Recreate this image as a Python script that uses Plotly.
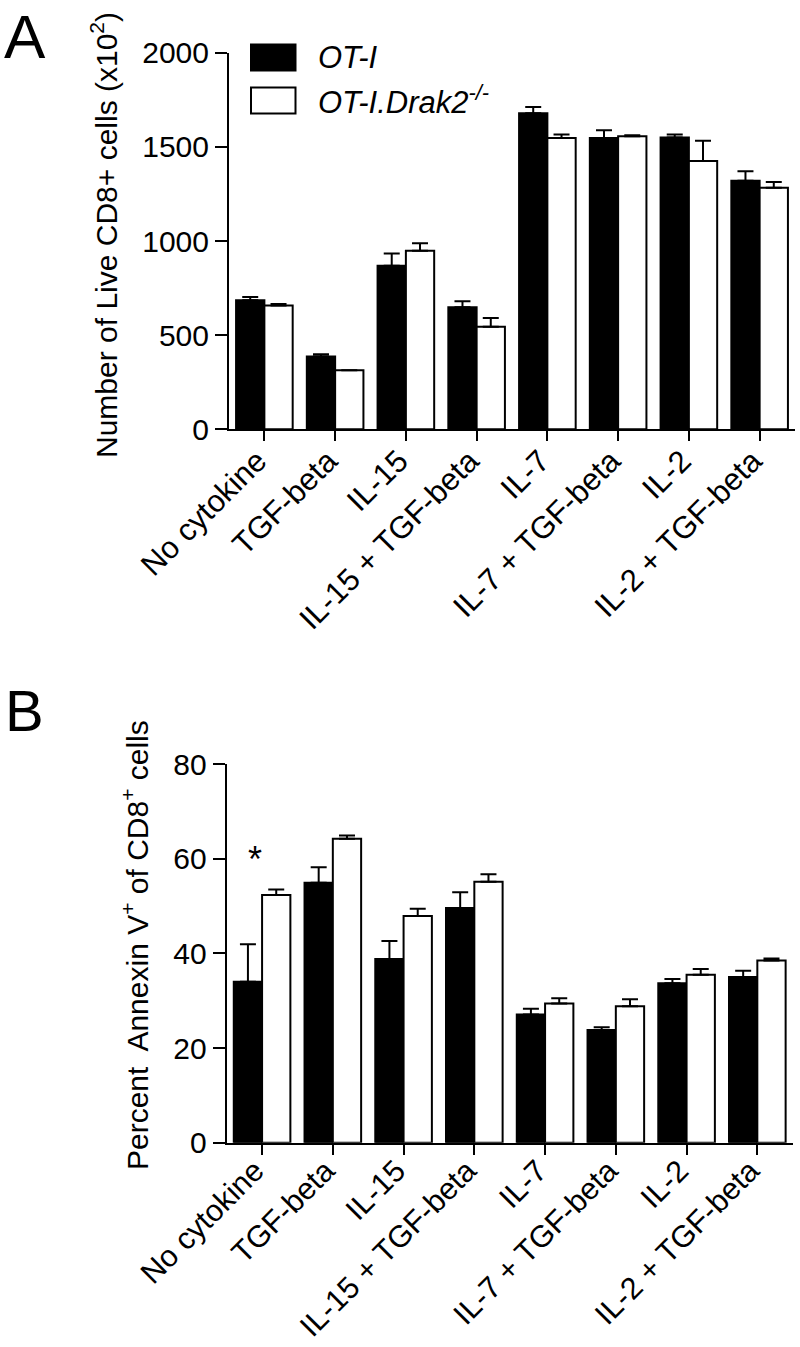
import plotly.graph_objects as go

# ---------------- data ----------------
categories = ["No cytokine", "TGF-beta", "IL-15", "IL-15 + TGF-beta",
              "IL-7", "IL-7 + TGF-beta", "IL-2", "IL-2 + TGF-beta"]

live_oti = [686, 386, 869, 648, 1678, 1547, 1549, 1320]
live_oti_err = [17, 12, 65, 32, 33, 41, 17, 50]
live_drak2 = [658, 313, 948, 545, 1547, 1556, 1425, 1283]
live_drak2_err = [7, 0, 40, 46, 19, 5, 108, 30]

annexin_oti = [34.0, 54.9, 38.8, 49.6, 27.1, 23.8, 33.7, 35.0]
annexin_oti_err = [7.9, 3.3, 3.8, 3.3, 1.2, 0.6, 0.9, 1.3]
annexin_drak2 = [52.3, 64.2, 47.9, 55.1, 29.4, 28.8, 35.5, 38.5]
annexin_drak2_err = [1.2, 0.7, 1.5, 1.6, 1.1, 1.5, 1.2, 0.4]

top_ticks = [0, 500, 1000, 1500, 2000]
bottom_ticks = [0, 20, 40, 60, 80]

series_names = ["OT-I", "OT-I.Drak2-/-"]
# ---------------------------------------

W, H = 800, 1347
FONT = "Liberation Sans, Arial, Helvetica, sans-serif"
FS = 30


def px_x(x):
    return x / W


def px_y(y):
    return 1 - y / H


def err(arr):
    return dict(type="data", symmetric=False, array=arr,
                arrayminus=[0] * len(arr), color="black",
                thickness=2, width=8, visible=True)


fig = go.Figure()

# Panel A
fig.add_trace(go.Bar(x=categories, y=live_oti, name=series_names[0],
                     marker=dict(color="black", line=dict(color="black", width=2)),
                     error_y=err(live_oti_err), xaxis="x", yaxis="y",
                     offsetgroup="a"))
fig.add_trace(go.Bar(x=categories, y=live_drak2, name=series_names[1],
                     marker=dict(color="white", line=dict(color="black", width=2)),
                     error_y=err(live_drak2_err), xaxis="x", yaxis="y",
                     offsetgroup="b"))
# Panel B
fig.add_trace(go.Bar(x=categories, y=annexin_oti, name=series_names[0],
                     marker=dict(color="black", line=dict(color="black", width=2)),
                     error_y=err(annexin_oti_err), xaxis="x2", yaxis="y2",
                     offsetgroup="a", showlegend=False))
fig.add_trace(go.Bar(x=categories, y=annexin_drak2, name=series_names[1],
                     marker=dict(color="white", line=dict(color="black", width=2)),
                     error_y=err(annexin_drak2_err), xaxis="x2", yaxis="y2",
                     offsetgroup="b", showlegend=False))

axis_common = dict(showline=True, linewidth=2, linecolor="black",
                   ticks="outside", tickwidth=2, tickcolor="black",
                   showgrid=False, zeroline=False)

yfont = dict(tickfont=dict(family=FONT, size=FS, color="black"))
xcat_top = dict(range=[-0.5, 7.5], tickangle=-45, ticklen=10,
                ticklabelshift=-7, ticklabelstandoff=-11, automargin=False,
                tickfont=dict(family=FONT, size=31, color="black"))
xcat_bottom = dict(range=[-0.5, 7.5], tickangle=-45, ticklen=10,
                   ticklabelshift=-7, ticklabelstandoff=-14, automargin=False,
                   tickfont=dict(family=FONT, size=30.5, color="black"))

fig.update_layout(
    width=W, height=H,
    margin=dict(l=0, r=0, t=0, b=0, pad=0),
    paper_bgcolor="white", plot_bgcolor="white",
    showlegend=False,
    barmode="group", bargap=0.2, bargroupgap=0,
    font=dict(family=FONT, size=FS, color="black"),
    xaxis=dict(domain=[px_x(229), px_x(795)], anchor="y", **xcat_top, **axis_common),
    yaxis=dict(domain=[px_y(429.3), px_y(52.7)], anchor="x",
               range=[0, 2000], tickvals=top_ticks, ticklen=12,
               automargin=False, **yfont, **axis_common),
    xaxis2=dict(domain=[px_x(226.7), px_x(792.7)], anchor="y2", **xcat_bottom, **axis_common),
    yaxis2=dict(domain=[px_y(1142.7), px_y(764)], anchor="x2",
                range=[0, 80], tickvals=bottom_ticks, ticklen=12,
                automargin=False, **yfont, **axis_common),
)

annotations = [
    # panel letters
    dict(text="A", x=px_x(2), y=1, xref="paper", yref="paper",
         xanchor="left", yanchor="top", showarrow=False,
         font=dict(family=FONT, size=62, color="black")),
    dict(text="B", x=px_x(3), y=px_y(711), xref="paper", yref="paper",
         xanchor="left", yanchor="middle", showarrow=False,
         font=dict(family=FONT, size=58, color="black")),
    # y-axis titles
    dict(text="Number of Live CD8+ cells (x10<sup>2</sup>)", textangle=-90,
         x=px_x(104), y=px_y(235), xref="paper", yref="paper",
         xanchor="center", yanchor="middle", showarrow=False,
         font=dict(family=FONT, size=FS, color="black")),
    dict(text="Percent\u00a0 Annexin V<sup>+</sup> of CD8<sup>+</sup> cells", textangle=-90,
         x=px_x(135), y=px_y(945), xref="paper", yref="paper",
         xanchor="center", yanchor="middle", showarrow=False,
         font=dict(family=FONT, size=FS, color="black")),
    # legend text
    dict(text="<i>OT-I</i>", x=px_x(316), y=px_y(57), xref="paper", yref="paper",
         xanchor="left", yanchor="middle", showarrow=False,
         font=dict(family=FONT, size=31, color="black")),
    dict(text="<i>OT-I.Drak2<sup>-/-</sup></i>", x=px_x(316), y=px_y(100),
         xref="paper", yref="paper",
         xanchor="left", yanchor="middle", showarrow=False,
         font=dict(family=FONT, size=31, color="black")),
    # significance marker
    dict(text="*", x=categories[0], y=59.8, xref="x2", yref="y2", xshift=-7,
         xanchor="center", yanchor="middle", showarrow=False,
         font=dict(family=FONT, size=36, color="black")),
]
fig.update_layout(annotations=annotations)

shapes = [
    dict(type="rect", xref="paper", yref="paper",
         x0=px_x(251), x1=px_x(295.5), y0=px_y(70.5), y1=px_y(44.5),
         fillcolor="black", line=dict(color="black", width=2)),
    dict(type="rect", xref="paper", yref="paper",
         x0=px_x(251), x1=px_x(295.5), y0=px_y(113.5), y1=px_y(87.5),
         fillcolor="white", line=dict(color="black", width=2)),
]
fig.update_layout(shapes=shapes)

fig.write_html("out.html",
               config={"displayModeBar": False, "staticPlot": True},
               post_script="document.body.style.margin='0px';document.body.style.overflow='hidden';")
